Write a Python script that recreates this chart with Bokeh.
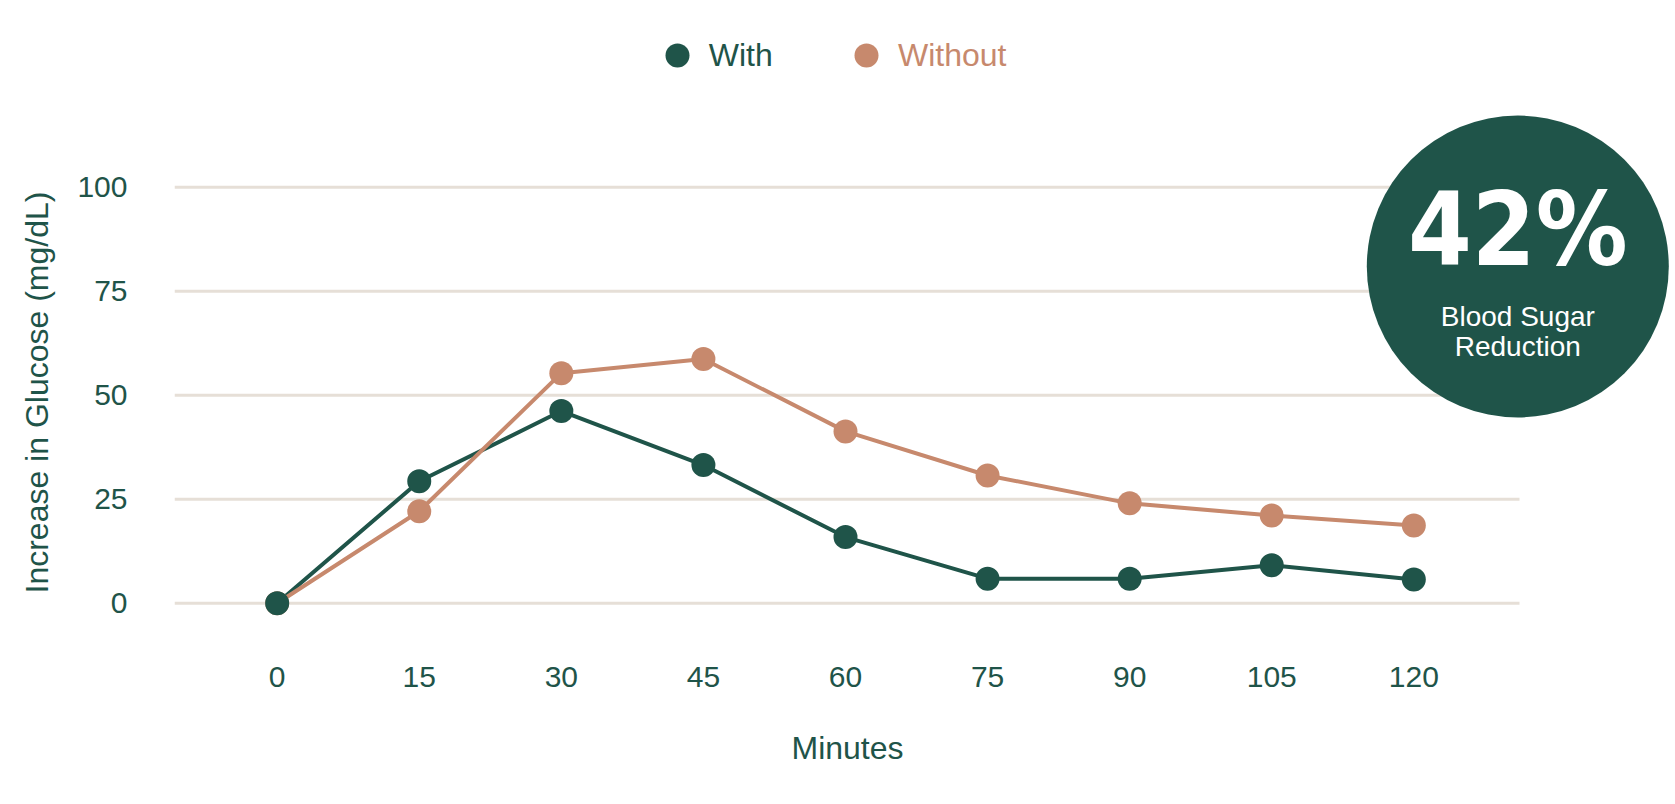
import math
from bokeh.plotting import figure
from bokeh.models import Range1d, FixedTicker, Legend, LegendItem, Title
from bokeh.core.properties import value
from bokeh.embed import file_html
from bokeh.resources import INLINE

# ---- data ----
minutes = [0, 15, 30, 45, 60, 75, 90, 105, 120]
with_vals = [0, 29.3, 46.2, 33.2, 15.9, 5.9, 5.9, 9.1, 5.7]
without_vals = [0, 22.1, 55.3, 58.7, 41.3, 30.7, 24.0, 21.1, 18.7]
y_ticks = [0, 25, 50, 75, 100]
series_names = ["With", "Without"]
x_title = "Minutes"
y_title = "Increase in Glucose (mg/dL)"
badge_value = "42%"
badge_lines = ["Blood Sugar", "Reduction"]

# ---- style ----
GREEN = "#1F5449"
ORANGE = "#C7896D"
GRID = "#E6DFD7"
FONT = "Liberation Sans"

W, H = 1675, 804
LEFT, BOTTOM = 174, 154
PX_PER_X = 9.472      # pixels per minute
PX_PER_Y = 4.16       # pixels per mg/dL
X0 = -10.84           # left edge of plotting frame (data)
ZERO_PX = 602.7       # screen y of value 0
FRAME_H = H - BOTTOM

def sy(py):
    """screen y (from top) to data y"""
    return (ZERO_PX - py) / PX_PER_Y

def sx(px):
    return X0 + (px - LEFT) / PX_PER_X

x_range = Range1d(X0, X0 + (W - LEFT) / PX_PER_X)
y_range = Range1d(sy(FRAME_H), sy(0))

p = figure(width=W, height=H, output_backend="svg", toolbar_location=None,
           x_range=x_range, y_range=y_range,
           min_border_left=LEFT, min_border_right=0,
           min_border_top=0, min_border_bottom=BOTTOM)
p.outline_line_color = None
p.background_fill_color = "white"
p.border_fill_color = "white"
p.xgrid.visible = False
p.ygrid.visible = False

# horizontal grid lines (limited extent)
grid_end = sx(1519)
p.segment(x0=[X0] * len(y_ticks), y0=y_ticks, x1=[grid_end] * len(y_ticks), y1=y_ticks,
          line_color=GRID, line_width=3, level="underlay")

# axes
for ax in (p.xaxis[0], p.yaxis[0]):
    ax.axis_line_color = None
    ax.major_tick_line_color = None
    ax.minor_tick_line_color = None
    ax.major_label_text_color = GREEN
    ax.major_label_text_font = FONT
    ax.major_label_text_font_size = "30px"
p.xaxis.ticker = FixedTicker(ticks=minutes)
p.yaxis.ticker = FixedTicker(ticks=y_ticks)
p.xaxis.major_label_standoff = 10
p.yaxis.major_label_standoff = 41

# series
p.line(minutes, with_vals, line_color=GREEN, line_width=4)
p.line(minutes, without_vals, line_color=ORANGE, line_width=4)
r_without = p.scatter(minutes, without_vals, size=24, fill_color=ORANGE, line_color=None)
r_with = p.scatter(minutes, with_vals, size=24, fill_color=GREEN, line_color=None)

# legends (one per series for per-item text colour)
for rend, name, col, vx in ((r_with, series_names[0], GREEN, 472.7),
                            (r_without, series_names[1], ORANGE, 662)):
    lg = Legend(items=[LegendItem(label=name, renderers=[rend])],
                location=(vx, FRAME_H - 85), orientation="horizontal",
                glyph_width=60, glyph_height=60, label_standoff=2,
                padding=0, margin=0, spacing=0,
                border_line_color=None, background_fill_alpha=0,
                label_text_color=col, label_text_font=FONT,
                label_text_font_size="32px")
    p.add_layout(lg)

# axis titles (side titles, placed over the gridline area)
p.add_layout(Title(text=x_title, align="left", vertical_align="bottom",
                   offset=617, standoff=76, text_color=GREEN, text_font=FONT,
                   text_font_size="32px", text_font_style="normal"), "below")
p.add_layout(Title(text=y_title, align="left", vertical_align="top",
                   offset=57, standoff=36, text_color=GREEN, text_font=FONT,
                   text_font_size="32px", text_font_style="normal"), "left")

# badge
bx, by = sx(1517.3), sy(266)
p.scatter([bx], [by], size=302, fill_color=GREEN, line_color=None)
p.text([bx], [sy(228.5)], text=[badge_value],
       text_font=value("DejaVu Sans Condensed, Liberation Sans Narrow, sans-serif"),
       text_font_style="bold", text_font_size="102px", text_color="white",
       text_align="center", text_baseline="middle")
p.text([bx, bx], [sy(316), sy(346)], text=badge_lines, text_font=value(FONT),
       text_font_size="28px", text_color="white",
       text_align="center", text_baseline="middle")

open("out.html", "w").write(file_html(p, INLINE))
